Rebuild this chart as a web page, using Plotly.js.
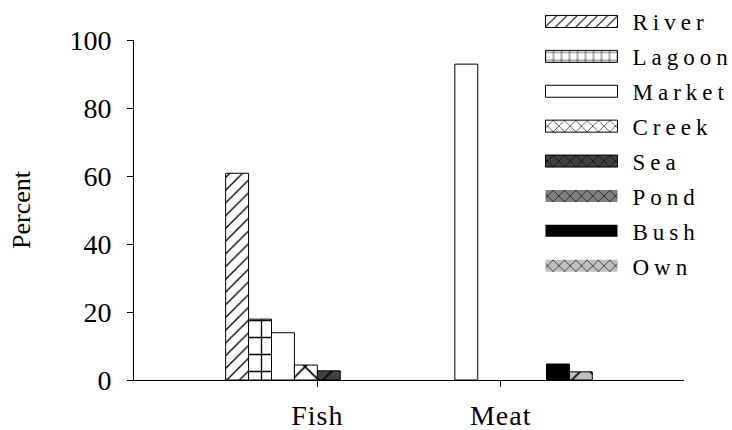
<!DOCTYPE html>
<html>
<head>
<meta charset="utf-8">
<script src="https://cdn.plot.ly/plotly-3.0.1.min.js"></script>
<style>
html, body { margin: 0; padding: 0; background: #fff; }
#chart { width: 732px; height: 430px; }
.legendtext { letter-spacing: 5px; }
.xtick text { letter-spacing: 1px; }
</style>
</head>
<body>
<div id="chart"></div>
<script>
// Data
const categories = ["Fish", "Meat"];
const seriesNames = ["River", "Lagoon", "Market", "Creek", "Sea", "Pond", "Bush", "Own"];
const river  = [60.8, 0];
const lagoon = [17.9, 0];
const market = [13.9, 92.9];
const creek  = [4.4, 0];
const sea    = [2.7, 0];
const pond   = [0, 0];
const bush   = [0, 4.7];
const own    = [0, 2.4];
const yTickVals = [0, 20, 40, 60, 80, 100];

const seriesValues = [river, lagoon, market, creek, sea, pond, bush, own];
const styles = [
  {color: "#ffffff", shape: "/", size: 9},
  {color: "#ffffff", shape: "+", size: 17},
  {color: "#ffffff", shape: "", size: 8},
  {color: "#ffffff", shape: "x", size: 22},
  {color: "#404040", shape: "x", size: 22},
  {color: "#808080", shape: "x", size: 22},
  {color: "#000000", shape: "", size: 8},
  {color: "#c0c0c0", shape: "x", size: 22}
];

const traces = seriesNames.map((name, i) => ({
  type: "bar",
  name: name,
  x: categories,
  y: seriesValues[i],
  legendgroup: "g" + i,
  marker: {
    color: styles[i].color,
    line: {color: "#000", width: seriesValues[i].map(v => (v > 0 ? 1 : 0))},
    pattern: {
      shape: styles[i].shape,
      size: styles[i].size,
      solidity: 0.15,
      fgcolor: "#000",
      bgcolor: styles[i].color,
      fillmode: "replace"
    }
  },
  hoverinfo: "x+y+name"
}));

const serif = "Liberation Serif";

const layout = {
  width: 732,
  height: 430,
  margin: {l: 134, r: 48, t: 40, b: 50, autoexpand: false},
  paper_bgcolor: "#fff",
  plot_bgcolor: "#fff",
  barmode: "group",
  bargap: 0,
  bargroupgap: 0,
  font: {family: serif, color: "#000", size: 20},
  xaxis: {
    type: "category",
    range: [-1, 2],
    showline: true,
    linecolor: "#000",
    linewidth: 1,
    ticks: "outside",
    ticklen: 6,
    tickcolor: "#000",
    showgrid: false,
    zeroline: false,
    ticklabelstandoff: 4,
    tickfont: {family: serif, size: 28, color: "#000"}
  },
  yaxis: {
    range: [0, 100],
    tickvals: yTickVals,
    showline: true,
    linecolor: "#000",
    linewidth: 1,
    ticks: "outside",
    ticklen: 6,
    tickcolor: "#000",
    showgrid: false,
    zeroline: false,
    ticklabelstandoff: 10,
    tickfont: {family: serif, size: 28, color: "#000"},
    title: {text: "Percent", font: {family: serif, size: 26, color: "#000"}, standoff: 31}
  },
  showlegend: true,
  legend: {
    xref: "container",
    yref: "container",
    x: 0.7247,
    xanchor: "left",
    y: 1,
    yanchor: "top",
    maxheight: 430,
    bgcolor: "rgba(0,0,0,0)",
    font: {family: serif, size: 23, color: "#000"},
    itemwidth: 92,
    tracegroupgap: 2,
    traceorder: "grouped"
  }
};

Plotly.newPlot("chart", traces, layout, {displayModeBar: false, staticPlot: true}).then(function (gd) {
  // widen legend swatches to look like wide bar keys
  document.querySelectorAll(".legend .legendpoints path").forEach(function (p) {
    p.setAttribute("d", "M36,6H-36V-6H36Z");
  });
});
</script>
</body>
</html>
